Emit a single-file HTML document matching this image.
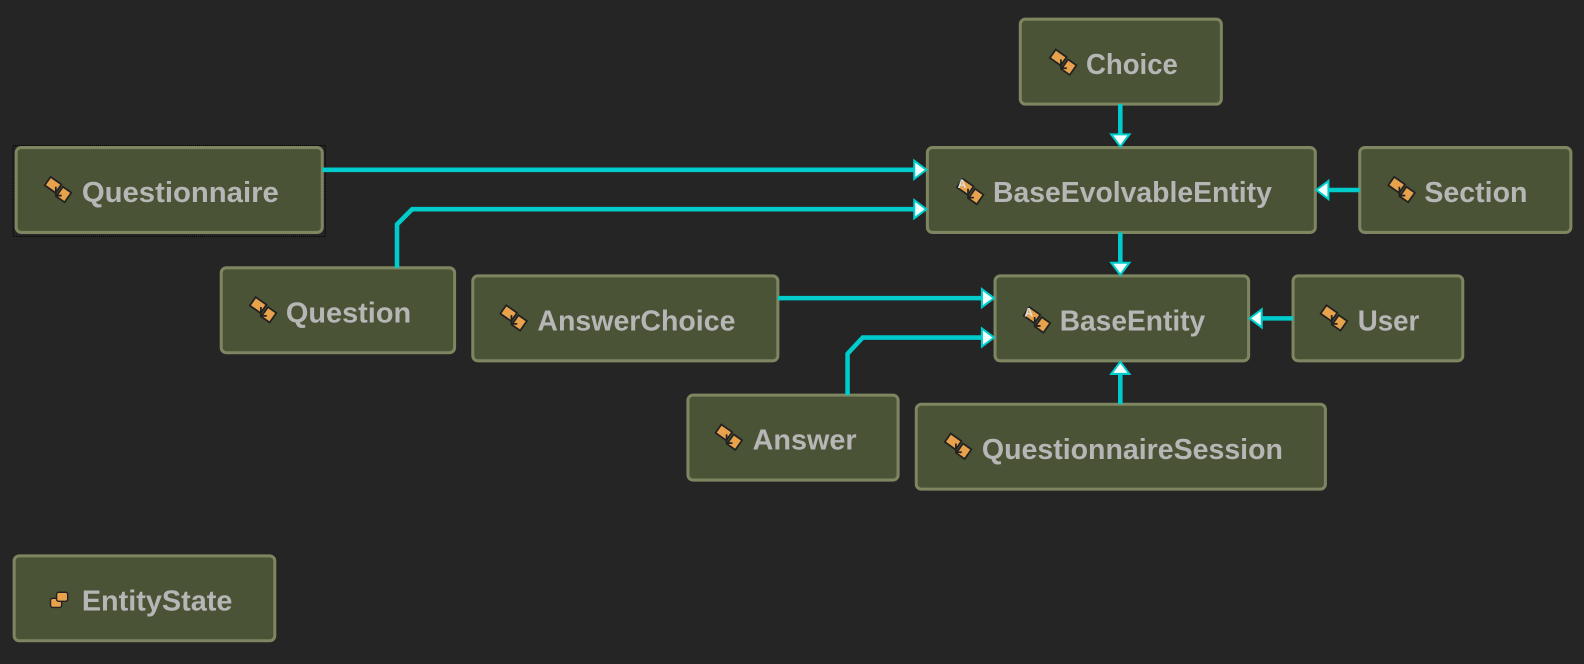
<!DOCTYPE html>
<html><head><meta charset="utf-8"><style>
html,body{margin:0;padding:0;background:#252525;width:1584px;height:664px;overflow:hidden}
svg{display:block}
text{font-family:"Liberation Sans",sans-serif;font-weight:bold;font-size:28px;fill:#b6b6b6}
</style></head><body>
<svg width="1584" height="664" viewBox="0 0 1568 657" preserveAspectRatio="none" xmlns="http://www.w3.org/2000/svg">
<defs>
<g id="ic">
<g transform="translate(-3 -7) scale(1.45)">
<rect x="-1" y="-1" width="9" height="7" transform="rotate(35 3 2)" fill="#e8a24c" stroke="#222" stroke-width="1.2"/>
<rect x="7" y="5" width="7" height="8" transform="rotate(35 10 9)" fill="#e8a24c" stroke="#222" stroke-width="1.2"/>
<path d="M5 4 v6 h4" fill="none" stroke="#222" stroke-width="1.2"/>
</g>
</g>
<g id="ia">
<use href="#ic" x="3" y="2"/>
<text x="-3" y="0" style="font-size:12px;fill:#ddd">A</text>
</g>
<g id="ie">
<rect x="0" y="-4" width="11" height="9" rx="2" fill="#e8a24c" stroke="#222" stroke-width="1.4"/>
<rect x="6" y="-10" width="11" height="9" rx="2" fill="#e8a24c" stroke="#222" stroke-width="1.4"/>
</g>
</defs>
<rect width="1568" height="657" fill="#252525"/>
<g fill="#4a5335" stroke="#7d8660" stroke-width="3">
<rect x="1010" y="19" width="199" height="84" rx="5"/>
<rect x="918" y="146" width="384" height="84" rx="5"/>
<rect x="1346" y="146" width="209" height="84" rx="5"/>
<rect x="16" y="146" width="303" height="84" rx="5"/>
<rect x="219" y="265" width="231" height="84" rx="5"/>
<rect x="468" y="273" width="302" height="84" rx="5"/>
<rect x="985" y="273" width="251" height="84" rx="5"/>
<rect x="1280" y="273" width="168" height="84" rx="5"/>
<rect x="681" y="391" width="208" height="84" rx="5"/>
<rect x="907" y="400" width="405" height="84" rx="5"/>
<rect x="14" y="550" width="258" height="84" rx="5"/>
</g>
<rect x="13" y="144" width="309" height="90" fill="none" stroke="#000" stroke-width="1" stroke-dasharray="1 1"/>
<g fill="none" stroke="#00cccc" stroke-width="4.5">
<path d="M1109 103 V134"/>
<path d="M319 168 H906"/>
<path d="M393 265 V222 L408 207 H906"/>
<path d="M1346 188 H1314"/>
<path d="M1109 230 V261"/>
<path d="M770 295 H973"/>
<path d="M839 391 V350 L854 334 H973"/>
<path d="M1280 315 H1248"/>
<path d="M1109 400 V369"/>
</g>
<g fill="#f4ffff" stroke="#00cccc" stroke-width="2">
<path d="M1100 133 L1118 133 L1109 145 Z"/>
<path d="M905 159 L917 168 L905 177 Z"/>
<path d="M905 198 L917 207 L905 216 Z"/>
<path d="M1315 179 L1303 188 L1315 197 Z"/>
<path d="M1100 260 L1118 260 L1109 272 Z"/>
<path d="M972 286 L984 295 L972 304 Z"/>
<path d="M972 325 L984 334 L972 343 Z"/>
<path d="M1249 306 L1237 315 L1249 324 Z"/>
<path d="M1100 370 L1118 370 L1109 358 Z"/>
</g>
<g>
<use href="#ic" x="1046" y="60"/><text x="1075" y="73" textLength="91" lengthAdjust="spacingAndGlyphs">Choice</text>
<use href="#ia" x="951" y="186"/><text x="983" y="200" textLength="276" lengthAdjust="spacingAndGlyphs">BaseEvolvableEntity</text>
<use href="#ic" x="1381" y="186"/><text x="1410" y="200" textLength="102" lengthAdjust="spacingAndGlyphs">Section</text>
<use href="#ic" x="51" y="186"/><text x="81" y="200" textLength="195" lengthAdjust="spacingAndGlyphs">Questionnaire</text>
<use href="#ic" x="254" y="305"/><text x="283" y="319" textLength="124" lengthAdjust="spacingAndGlyphs">Question</text>
<use href="#ic" x="502" y="313"/><text x="532" y="327" textLength="196" lengthAdjust="spacingAndGlyphs">AnswerChoice</text>
<use href="#ia" x="1017" y="313"/><text x="1049" y="327" textLength="144" lengthAdjust="spacingAndGlyphs">BaseEntity</text>
<use href="#ic" x="1314" y="313"/><text x="1344" y="327" textLength="61" lengthAdjust="spacingAndGlyphs">User</text>
<use href="#ic" x="715" y="431"/><text x="745" y="445" textLength="103" lengthAdjust="spacingAndGlyphs">Answer</text>
<use href="#ic" x="942" y="440"/><text x="972" y="454" textLength="298" lengthAdjust="spacingAndGlyphs">QuestionnaireSession</text>
<use href="#ie" x="50" y="596"/><text x="81" y="604" textLength="149" lengthAdjust="spacingAndGlyphs">EntityState</text>
</g>
</svg>
</body></html>
